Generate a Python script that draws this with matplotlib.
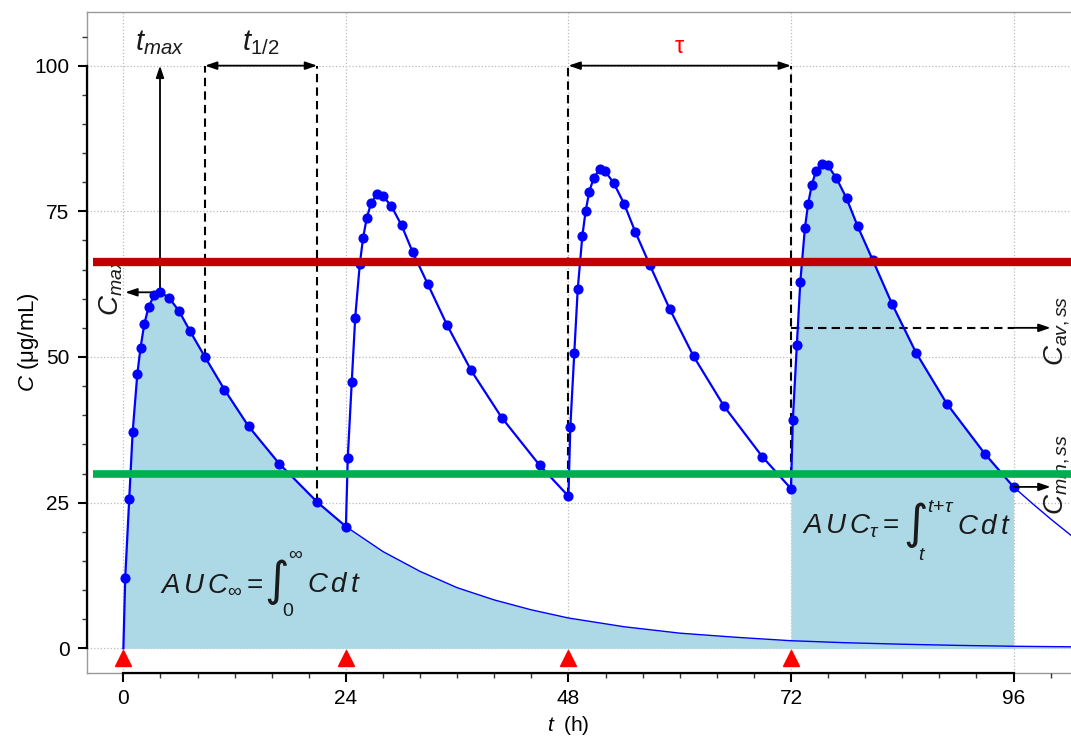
"""Perfil farmacocinético de doses múltiplas (AUC, Cmax, tmax, t1/2, tau)."""
import numpy as np
import matplotlib
matplotlib.use("Agg")
import matplotlib.pyplot as plt
from matplotlib.ticker import MultipleLocator

plt.rcParams['font.family'] = ['Liberation Sans', 'DejaVu Sans']
plt.rcParams['mathtext.fontset'] = 'custom'
plt.rcParams['mathtext.it'] = 'Liberation Sans:italic'
plt.rcParams['mathtext.rm'] = 'Liberation Sans'
plt.rcParams['mathtext.sf'] = 'Liberation Sans'

# dados
dose_times = [0, 24, 48, 72]
sample_h = [0.2, 0.63, 1.0, 1.5, 1.85, 2.25, 2.72, 3.35, 3.95, 4.9,
            6.0, 7.2, 8.8, 10.9, 13.5, 16.8, 20.9, 24.0]
conc_dose1 = [12.1, 25.6, 37.1, 47.0, 51.6, 55.6, 58.6, 60.7, 61.1, 60.2,
              57.9, 54.4, 50.0, 44.4, 38.1, 31.7, 25.1, 20.9]
conc_dose2 = [32.7, 45.7, 56.7, 66.0, 70.4, 73.9, 76.4, 77.9, 77.7, 75.9,
              72.6, 68.0, 62.6, 55.5, 47.7, 39.6, 31.4, 26.1]
conc_dose3 = [37.9, 50.7, 61.6, 70.8, 75.0, 78.4, 80.7, 82.2, 81.9, 79.8,
              76.3, 71.5, 65.7, 58.3, 50.1, 41.5, 32.9, 27.4]
conc_dose4 = [39.2, 52.0, 62.8, 72.1, 76.3, 79.6, 82.0, 83.1, 82.9, 80.7,
              77.2, 72.4, 66.7, 59.1, 50.7, 42.0, 33.4, 27.7]

# cauda da dose única (extrapolação) e após a última dose
tail_t = [24, 28, 32, 36, 40, 44, 48, 54, 60, 66, 72, 78, 84, 90, 96, 102.5]
tail_c = [20.9, 16.6, 13.2, 10.4, 8.3, 6.6, 5.2, 3.7, 2.6, 1.9, 1.3, 0.95,
          0.7, 0.5, 0.35, 0.25]
post_t = [96, 98, 100, 102.5]
post_c = [27.7, 24.9, 22.2, 19.0]

c_toxic = 66.3      # linha vermelha
c_effective = 30.0  # linha verde
c_av_ss = 55.0

x_ticks = [0, 24, 48, 72, 96]
y_ticks = [0, 25, 50, 75, 100]

sample_h = np.array(sample_h)
doses = [conc_dose1, conc_dose2, conc_dose3, conc_dose4]

fig = plt.figure(figsize=(10.71, 7.39), dpi=100)
ax = fig.add_axes([0.081, 0.0897, 0.919, 0.894])
ax.set_xlim(-3.95, 102.2)
ax.set_ylim(-4.19, 109.2)

text_color = '#1a1a1a'
fill_color = '#ADD8E6'

# AUC infinito (dose única)
single_t = np.concatenate([[0], sample_h, tail_t[1:]])
single_c = np.concatenate([[0], conc_dose1, tail_c[1:]])
ax.fill_between(single_t, 0, single_c, color=fill_color, lw=0, zorder=1)
ax.plot(tail_t, tail_c, color='blue', lw=1, zorder=2)

# AUC tau (última dose)
tau_t = np.concatenate([[dose_times[3]], dose_times[3] + sample_h])
tau_c = np.concatenate([[conc_dose3[-1]], conc_dose4])
ax.fill_between(tau_t, 0, tau_c, color=fill_color, lw=0, zorder=1)
ax.plot(post_t, post_c, color='blue', lw=1, zorder=2)

# concentrações observadas
obs_t = np.concatenate([[0]] + [d + sample_h for d in dose_times])
obs_c = np.concatenate([[0]] + doses)
ax.plot(obs_t, obs_c, color='blue', lw=1.6, marker='o', ms=6.3,
        markevery=list(range(1, len(obs_t))), zorder=3)

# momentos das doses
ax.plot(dose_times, [-1.72] * len(dose_times), linestyle='none', marker='^',
        color='red', ms=11, zorder=4)

arrow = dict(arrowstyle='-|>,head_length=0.5,head_width=0.17', color='black',
             lw=1.3, shrinkA=0, shrinkB=0, mutation_scale=14)
darrow = dict(arrowstyle='<|-|>,head_length=0.5,head_width=0.17', color='black',
              lw=1.3, shrinkA=0, shrinkB=0, mutation_scale=14)
dash = dict(color='black', linestyles=(0, (4, 2.5)), lw=1.5, zorder=2.5)

# tmax e Cmax
i_max = int(np.argmax(conc_dose1))
t_max, c_max = sample_h[i_max], conc_dose1[i_max]
ax.annotate('', xy=(t_max, 100), xytext=(t_max, c_max), arrowprops=arrow, zorder=2.5)
ax.annotate('', xy=(0.2, c_max), xytext=(t_max, c_max), arrowprops=arrow, zorder=2.5)
ax.text(t_max, 104, r'$t_{max}$', fontsize=21, ha='center', va='center', color=text_color)
ax.text(-1.27, 62.2, r'$C_{max}$', fontsize=20, rotation=90, ha='center',
        va='center', color=text_color, zorder=3)

# meia-vida
h1, h2 = 12, 16
ax.vlines(sample_h[h1], conc_dose1[h1], 100, **dash)
ax.vlines(sample_h[h2], conc_dose1[h2], 100, **dash)
ax.annotate('', xy=(sample_h[h1], 100), xytext=(sample_h[h2], 100), arrowprops=darrow)
ax.text((sample_h[h1] + sample_h[h2]) / 2, 104, r'$t_{1/2}$', fontsize=21,
        ha='center', va='center', color=text_color)

# intervalo de dosagem tau
ax.vlines(dose_times[2], conc_dose2[-1], 100, **dash)
ax.vlines(dose_times[3], conc_dose3[-1], 100, **dash)
ax.annotate('', xy=(dose_times[2], 100), xytext=(dose_times[3], 100), arrowprops=darrow)
ax.text((dose_times[2] + dose_times[3]) / 2, 103.2, 'τ', fontsize=17, color='red',
        ha='center', va='center')

# Cav,ss e Cmin,ss
ax.hlines(c_av_ss, dose_times[3], 96, **dash)
ax.annotate('', xy=(100, c_av_ss), xytext=(96, c_av_ss), arrowprops=arrow)
ax.annotate('', xy=(100, conc_dose4[-1]), xytext=(96, conc_dose4[-1]), arrowprops=arrow)
ax.text(100.75, 54.5, r'$C_{av,ss}$', fontsize=20, rotation=90, ha='center',
        va='center', color=text_color, zorder=3)
ax.text(100.75, 29.8, r'$C_{min,ss}$', fontsize=20, rotation=90, ha='center',
        va='center', color=text_color, zorder=3)


def integral_label(x, y_base, left, lower, upper, offsets):
    """Escreve 'AUC = ∫ C dt' com um sinal de integral grande."""
    off_int, off_low, off_up, off_cdt = offsets
    kw = dict(xy=(x, y_base), xycoords='data', textcoords='offset points',
              color=text_color)
    ax.annotate(left, xytext=(0, 0), fontsize=20, ha='left', va='baseline', **kw)
    ax.annotate('∫', xytext=off_int, fontsize=34, ha='center', va='center',
                family='DejaVu Sans', style='oblique', fontweight='light', **kw)
    ax.annotate(lower, xytext=off_low, fontsize=14, ha='center', va='center', **kw)
    ax.annotate(upper, xytext=off_up, fontsize=14, ha='center', va='center', **kw)
    ax.annotate(r'$C\,d\,t$', xytext=off_cdt, fontsize=20, ha='left',
                va='baseline', **kw)


integral_label(3.96, 9.7, r'$A\,U\,C_{\infty} =$', '0', '∞',
               [(84, 7), (92, -14.5), (97, 26.5), (106, 0)])
integral_label(73.17, 19.7, r'$A\,U\,C_{\tau} =$', '$t$', r'$t\!+\!\tau$',
               [(82, 6), (86.6, -15.6), (100, 19), (112, 0)])

# linhas de concentração tóxica / efetiva
ax.hlines(c_toxic, -3.25, 103, color='#C00000', lw=6, zorder=6)
ax.hlines(c_effective, -3.25, 103, color='#00B050', lw=5.5, zorder=6)

# eixos
ax.set_xticks(x_ticks)
ax.set_yticks(y_ticks)
ax.xaxis.set_minor_locator(MultipleLocator(4))
ax.yaxis.set_minor_locator(MultipleLocator(5))
ax.tick_params(which='major', direction='out', length=6.5, width=1.5,
               labelsize=15, colors='black')
ax.tick_params(axis='x', which='major', pad=5)
ax.tick_params(axis='y', which='major', pad=6)
ax.tick_params(which='minor', direction='out', length=3.5, width=1, colors='#333333')
ax.grid(True, which='major', linestyle=':', color='#BBBBBB', lw=0.9)
ax.set_axisbelow(True)

for side in ['top', 'right']:
    ax.spines[side].set_visible(False)
ax.spines['left'].set_bounds(0, 100)
ax.spines['bottom'].set_bounds(0, 96)
ax.spines['left'].set_linewidth(1.6)
ax.spines['bottom'].set_linewidth(1.6)
frame = dict(color='#999999', lw=1, transform=ax.transAxes, clip_on=False, zorder=0.5)
ax.plot([0, 0], [0, 1], **frame)
ax.plot([0, 1], [1, 1], **frame)
ax.plot([0, 1], [0, 0], **frame)

ax.set_xlabel(r'$t\;$ (h)', fontsize=15)
ax.set_ylabel(r'$C$ (μg/mL)', fontsize=16)
ax.xaxis.set_label_coords(0.489, -0.062)
ax.yaxis.set_label_coords(-0.046, 0.5)

fig.savefig('out.png', dpi=100)
